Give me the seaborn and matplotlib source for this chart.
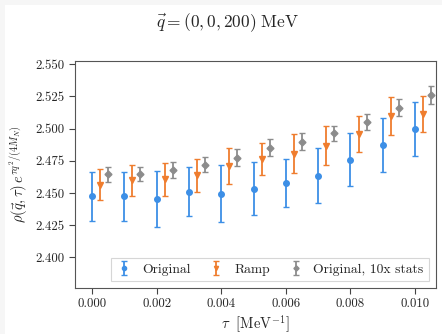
import numpy as np
import matplotlib
matplotlib.use('Agg')
import matplotlib.pyplot as plt
import seaborn as sns
from matplotlib.patches import Rectangle

tau = [0.000, 0.001, 0.002, 0.003, 0.004, 0.005, 0.006, 0.007, 0.008, 0.009, 0.010]

orig = [2.4474, 2.4476, 2.4453, 2.4511, 2.4495, 2.4534, 2.4577, 2.4635, 2.4759, 2.4873, 2.4995]
orig_err = [0.019, 0.019, 0.0218, 0.0189, 0.0219, 0.0203, 0.0187, 0.0214, 0.0207, 0.0211, 0.021]

ramp = [2.4565, 2.4600, 2.4606, 2.4639, 2.4709, 2.4761, 2.4806, 2.4868, 2.4956, 2.5098, 2.5111]
ramp_err = [0.0117, 0.012, 0.0127, 0.0128, 0.0136, 0.0124, 0.0148, 0.0148, 0.014, 0.015, 0.0138]

stats10 = [2.4645, 2.4645, 2.4676, 2.4720, 2.4775, 2.4852, 2.4899, 2.4963, 2.5049, 2.5163, 2.5261]
stats10_err = [0.006, 0.0056, 0.0062, 0.006, 0.0065, 0.0069, 0.0066, 0.006, 0.006, 0.0065, 0.0068]

sns.set_theme(style='ticks')
plt.rcParams['font.family'] = ['cmr10', 'DejaVu Serif']
plt.rcParams['mathtext.fontset'] = 'cm'
plt.rcParams['axes.formatter.use_mathtext'] = True
plt.rcParams['axes.unicode_minus'] = False

colors = ['#3d8fe6', '#ef7d2e', '#8c8c8c']

fig = plt.figure(figsize=(4.42, 3.34), dpi=100, facecolor='#f6f6f6')
fig.patches.append(Rectangle((5 / 442, 0), 1, 1 - 5 / 334, transform=fig.transFigure,
                             facecolor='white', edgecolor='none', zorder=-10))
ax = fig.add_axes([0.170, 0.138, 0.816, 0.679])

t = np.array(tau)
ax.errorbar(t, orig, yerr=orig_err, fmt='o', color=colors[0], ms=4, capsize=2,
            elinewidth=1.3, capthick=1.0, label='Original')
ax.errorbar(t + 0.00025, ramp, yerr=ramp_err, fmt='v', color=colors[1], ms=4, capsize=2,
            elinewidth=1.3, capthick=1.0, label='Ramp')
ax.errorbar(t + 0.0005, stats10, yerr=stats10_err, fmt='D', color=colors[2], ms=3.5, capsize=2,
            elinewidth=1.3, capthick=1.0, label='Original, 10x stats')

ax.set_xlim(-0.00052, 0.01064)
ax.set_ylim(2.3763, 2.5523)
ax.set_yticks(np.arange(2.400, 2.551, 0.025))
ax.set_xticks(np.arange(0.0, 0.0101, 0.002))
ax.yaxis.set_major_formatter(matplotlib.ticker.FormatStrFormatter('%.3f'))
ax.xaxis.set_major_formatter(matplotlib.ticker.FormatStrFormatter('%.3f'))
ax.tick_params(labelsize=9.3, length=4, width=0.8, color='#444444')
for s in ax.spines.values():
    s.set_color('#555555')
    s.set_linewidth(0.8)

ax.set_xlabel(r'$\tau\ \ [\mathrm{MeV}^{-1}]$', fontsize=10.5, labelpad=2)
ax.set_ylabel(r'$\rho(\vec{q},\tau)\, e^{\tau q^2/(4M_N)}$', fontsize=10.5, labelpad=4)
fig.text(228 / 442, 0.965, r'$\vec{q} = (0,0,200)\ \mathrm{MeV}$', fontsize=12.5,
         ha='center', va='top')

leg = ax.legend(loc='lower right', ncol=3, fontsize=9.8, frameon=True, fancybox=False,
                edgecolor='#cccccc', handlelength=1.2, columnspacing=1.3, handletextpad=0.7,
                borderpad=0.4, borderaxespad=0.5, markerscale=0.75)
leg.get_frame().set_linewidth(0.8)

fig.savefig('out.png', dpi=100, facecolor=fig.get_facecolor())
